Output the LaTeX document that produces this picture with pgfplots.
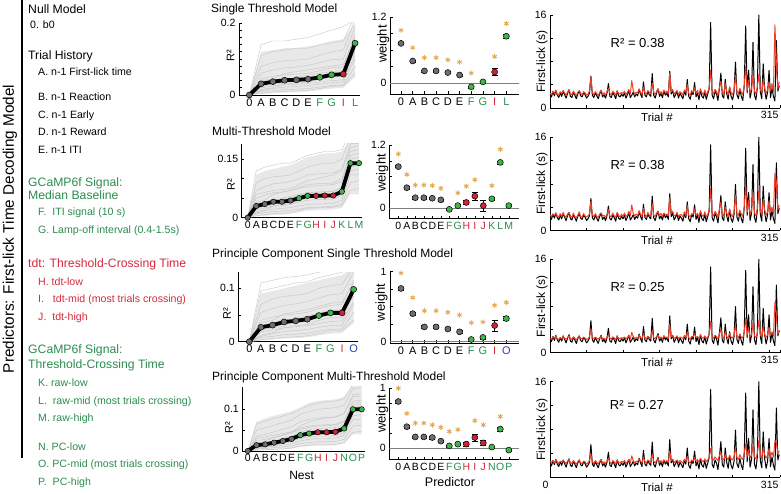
\documentclass[border=0pt]{standalone}
\usepackage{pgfplots}
\pgfplotsset{compat=1.18}
\usepackage{pgfplotstable}
\usepackage{fontspec}
\setmainfont{Liberation Sans}
\newcommand{\fsz}[1]{\fontsize{#1}{#1}\selectfont}
\definecolor{cgt}{HTML}{2A8C4E}
\definecolor{crt}{HTML}{D42A3A}
\definecolor{cbt}{HTML}{2B3FB5}
\definecolor{cgp}{HTML}{3DB54A}
\definecolor{crp}{HTML}{D02436}
\definecolor{cgray}{HTML}{6E6E6E}
\definecolor{cstar}{HTML}{E3A852}
\definecolor{cts}{HTML}{F0402A}
\definecolor{cline}{HTML}{C4C4C4}
\definecolor{cband}{HTML}{E8E8E8}

\pgfplotsset{
  panel/.style={scale only axis, anchor=south west,
    axis x line*=bottom, axis y line*=left,
    tick align=inside, major tick length=2.5pt, minor tick length=2.5pt,
    tick style={black, line width=0.6pt},
    axis line style={black, line width=0.8pt},
    tick label style={font=\fsz{10.5}},
    label style={font=\fsz{12}},
    /pgf/number format/assume math mode=true},
  gp/.style={only marks, mark=*, mark size=3pt, mark options={fill=cgray, draw=black, line width=0.5pt}},
  gg/.style={only marks, mark=*, mark size=3pt, mark options={fill=cgp, draw=black, line width=0.5pt}},
  gr/.style={only marks, mark=*, mark size=3pt, mark options={fill=crp, draw=black, line width=0.5pt}},
  st/.style={only marks, mark=asterisk, mark size=2.6pt, mark options={draw=cstar, line width=0.9pt}},
  eb/.style={error bars/.cd, y dir=both, y explicit},
  gline/.style={cline, line width=0.4pt},
  band/.style={fill=cband, draw=none},
  nest/.style={black, line width=3.8pt, line join=round},
  tsb/.style={black, line width=1pt, line join=round},
  tsr/.style={cts, line width=1pt, line join=round},
  ts/.style={xmin=0, xmax=315, ymin=0, ymax=16, ytick={0,16}, yticklabels={0,16}, minor ytick={4,8,12},
    xtick={315}, xticklabels={315}, minor xtick={50,100,...,300},
    x tick label style={anchor=north east, xshift=2pt},
    xlabel={Trial \#}, xlabel style={at={(axis description cs:0.465,0)}, anchor=north, yshift=-2pt, font=\fsz{11.5}},
    ylabel={First-lick (s)}, ylabel style={at={(axis description cs:-0.035,0.5)}, anchor=center, font=\fsz{12}}},
}

\pgfplotstableread{
t b r1 r2 r3 r4
0 2.4 2.6 2.7 2.5 2.6
2 1.9 2.3 2.4 2.4 2.5
4 2.8 2.9 2.8 2.7 2.8
6 2.1 2.5 2.6 2.5 2.4
8 3.0 3.1 3.0 2.9 2.9
10 2.2 2.4 2.5 2.4 2.6
12 1.8 2.2 2.3 2.3 2.3
14 2.6 2.8 2.9 2.6 2.7
16 2.0 2.5 2.4 2.4 2.5
18 2.9 3.0 3.1 2.8 2.8
20 2.3 2.6 2.5 2.5 2.6
22 1.7 2.2 2.3 2.3 2.3
24 2.5 2.7 2.8 2.6 2.7
26 3.1 3.2 3.1 2.9 3.0
28 2.0 2.4 2.5 2.4 2.4
30 1.8 2.3 2.2 2.3 2.3
32 2.7 2.9 3.0 2.7 2.8
34 2.2 2.5 2.4 2.5 2.5
36 1.6 2.1 2.2 2.2 2.2
38 2.4 2.7 2.6 2.6 2.6
40 2.9 3.0 3.2 2.8 2.9
42 2.1 2.5 2.4 2.5 2.4
44 1.9 2.3 2.3 2.4 2.3
46 2.6 2.8 2.9 2.7 2.7
48 2.3 2.6 2.5 2.5 2.6
50 1.7 2.2 2.3 2.3 2.2
52 2.0 2.4 2.5 2.4 2.4
54 2.5 2.9 2.8 2.7 2.8
56 5.5 5.3 5.0 4.1 3.9
58 2.2 2.6 2.7 2.6 2.6
60 1.8 2.3 2.4 2.4 2.3
62 2.6 2.8 2.9 2.7 2.8
64 2.1 2.5 2.4 2.5 2.5
66 1.6 2.1 2.2 2.3 2.2
68 2.4 2.7 2.8 2.6 2.7
70 3.0 3.1 3.0 2.8 2.9
72 1.9 2.4 2.5 2.4 2.4
74 2.3 2.6 2.6 2.5 2.6
76 1.7 2.2 2.3 2.3 2.3
78 2.5 2.8 2.7 2.6 2.7
80 4.2 3.4 3.6 3.1 3.2
82 2.0 2.5 2.4 2.5 2.5
84 1.8 2.3 2.4 2.4 2.3
86 2.7 2.9 3.0 2.7 2.8
88 2.2 2.6 2.5 2.5 2.6
90 1.6 2.2 2.3 2.3 2.2
92 2.9 3.0 3.1 2.8 2.9
94 2.1 2.5 2.6 2.5 2.5
96 1.9 2.4 2.3 2.4 2.4
98 2.4 2.7 2.8 2.6 2.7
100 2.0 2.5 2.4 2.5 2.5
102 2.6 2.9 3.0 2.7 2.8
104 1.7 2.3 2.4 2.4 2.3
106 2.3 2.7 2.6 2.6 2.6
108 3.0 3.2 3.3 2.9 3.0
110 1.8 2.4 2.5 2.4 2.4
112 2.2 4.7 4.4 3.5 3.6
114 2.7 3.0 2.9 2.8 2.8
116 1.9 2.4 2.5 2.4 2.4
118 2.4 2.7 2.8 2.6 2.7
120 2.1 2.6 2.5 2.5 2.6
122 3.2 3.3 3.4 3.0 3.1
124 2.4 2.7 2.8 2.6 2.7
126 1.8 2.3 2.4 2.4 2.4
128 4.5 3.6 3.8 3.3 3.4
130 2.2 2.6 2.7 2.6 2.6
132 1.9 2.4 2.3 2.4 2.4
134 2.8 3.0 3.1 2.8 2.9
136 2.3 2.7 2.6 2.6 2.7
138 2.0 2.5 2.6 2.5 2.5
140 5.9 4.3 4.6 3.8 3.9
142 2.2 2.7 2.6 2.6 2.7
144 1.7 2.3 2.4 2.4 2.4
146 2.6 2.9 3.0 2.8 2.8
148 3.3 3.3 3.2 3.0 3.1
150 2.0 2.5 2.6 2.5 2.5
152 2.5 2.8 2.9 2.7 2.8
154 1.8 2.3 2.4 2.4 2.4
156 2.9 3.1 3.0 2.9 2.9
158 2.2 2.6 2.7 2.6 2.6
160 2.6 2.9 2.8 2.7 2.8
162 1.9 2.4 2.5 2.4 2.5
164 6.3 6.0 5.6 4.9 4.4
166 2.4 2.8 2.9 2.7 2.8
168 3.0 3.2 3.3 3.0 3.0
170 1.8 2.4 2.5 2.5 2.5
172 2.3 2.7 2.6 2.6 2.7
174 2.8 3.0 3.1 2.9 2.9
176 1.7 2.3 2.4 2.4 2.4
178 2.5 2.8 2.7 2.7 2.8
180 2.1 2.6 2.7 2.6 2.6
182 1.6 2.2 2.3 2.4 2.4
184 2.9 3.1 3.2 2.9 3.0
186 2.2 2.7 2.6 2.6 2.7
188 4.9 4.0 4.3 3.6 3.5
190 2.0 2.5 2.6 2.6 2.6
192 1.5 2.2 2.3 2.3 2.4
194 2.7 3.0 2.9 2.8 2.9
196 2.3 2.7 2.8 2.7 2.7
198 4.4 3.5 3.7 3.3 3.3
200 1.9 2.5 2.6 2.6 2.7
202 2.6 3.0 2.9 2.8 3.0
204 1.4 2.2 2.3 2.4 2.5
206 3.1 3.3 3.4 3.1 3.2
208 2.0 2.6 2.7 2.6 2.8
210 1.7 2.3 2.4 2.5 2.6
212 2.8 3.1 3.2 2.9 3.1
214 1.5 2.2 2.3 2.4 2.6
216 2.4 2.8 2.7 2.7 2.9
218 3.3 3.4 3.5 3.1 3.3
220 14.7 6.5 7.2 5.4 4.8
222 2.2 2.9 3.0 2.8 3.2
224 1.6 2.4 2.5 2.5 2.9
226 2.9 3.2 3.3 3.0 3.4
228 2.4 2.8 2.9 2.8 3.1
230 1.3 2.2 2.3 2.4 2.8
232 3.4 3.5 3.6 3.2 3.6
234 6.0 4.6 4.9 4.1 4.2
236 2.1 2.7 2.8 2.7 3.1
238 1.7 2.4 2.5 2.5 2.9
240 4.9 4.2 4.0 3.6 3.8
242 2.5 2.9 3.0 2.8 3.3
244 1.5 2.3 2.4 2.5 2.9
246 3.6 3.6 3.7 3.3 3.7
248 2.0 2.6 2.7 2.7 3.1
250 1.4 2.3 2.4 2.5 2.9
252 2.7 3.1 3.2 3.0 3.4
254 7.9 5.6 6.1 4.8 5.0
256 2.3 2.8 2.9 2.8 3.3
258 1.6 2.5 2.6 2.6 3.0
260 3.2 3.4 3.5 3.2 3.8
262 2.0 2.7 2.8 2.7 3.2
264 1.3 2.3 2.4 2.5 3.0
266 3.8 3.9 4.1 3.5 4.1
268 14.1 7.2 7.8 5.9 5.6
270 2.6 3.0 3.1 3.0 3.5
272 6.5 4.8 5.2 4.3 4.6
274 1.7 2.6 2.7 2.7 3.2
276 3.0 3.3 3.4 3.1 3.7
278 11.3 5.5 6.3 5.1 5.3
280 2.2 2.9 3.0 2.9 3.4
282 1.4 2.4 2.5 2.6 3.1
284 3.5 3.7 3.8 3.4 4.0
286 16.0 5.8 6.9 5.6 6.2
288 2.8 3.2 3.3 3.1 3.7
290 1.6 2.6 2.7 2.7 3.2
292 7.6 4.9 5.4 4.5 4.9
294 3.1 3.4 3.5 3.2 3.8
296 1.5 2.5 2.6 2.7 3.2
298 2.7 3.1 3.2 3.0 3.6
300 6.5 4.5 5.1 4.3 4.8
302 1.8 3.0 3.1 2.9 3.5
304 3.4 4.2 4.0 3.6 4.2
306 2.0 2.8 2.9 2.9 3.4
308 1.2 14.3 9.8 8.6 6.1
310 11.6 7.8 8.4 6.3 5.9
312 2.9 3.3 3.5 3.2 3.9
314 3.8 4.5 4.3 3.8 4.4
}\ts

\pgfplotstableread{
x g1 g2 g3 g4 g5 g6 g7 g8 g9 g10 g11 g12 g13 g14
0 0 0 0 0 0 0 0 0 0 0 0 0 0 0
1 .010 .020 .030 .045 .060 .015 .080 .005 .040 .11 .025 .012 .035 .14
2 .012 .025 .036 .052 .070 .020 .090 .008 .045 .12 .030 .018 .040 .150
3 .015 .028 .040 .056 .075 .030 .095 .010 .060 .125 .033 .022 .045 .150
4 .016 .030 .041 .058 .078 .034 .097 .011 .065 .13 .050 .024 .047 .155
5 .018 .032 .043 .060 .082 .036 .10 .013 .070 .13 .055 .026 .050 .160
6 .022 .036 .050 .068 .090 .044 .11 .018 .075 .14 .060 .030 .052 .170
7 .026 .040 .058 .075 .098 .050 .12 .024 .080 .145 .065 .034 .056 .180
8 .028 .042 .060 .078 .10 .052 .125 .026 .085 .15 .068 .036 .058 .190
9 .08 .11 .15 .17 .19 .13 .21 .06 .16 .22 .14 .10 .12 .21
}\rA

\pgfplotstableread{
x g1 g2 g3 g4 g5 g6 g7 g8 g9 g10 g11 g12 g13 g14
0 0 0 0 0 0 0 0 0 0 0 0 0 0 0
1 .010 .020 .035 .050 .070 .015 .090 .005 .040 .12 .025 .012 .060 .030
2 .013 .025 .040 .058 .080 .020 .10 .008 .045 .13 .030 .018 .065 .034
3 .016 .030 .046 .064 .087 .030 .105 .010 .060 .135 .033 .022 .070 .038
4 .017 .031 .047 .066 .089 .034 .107 .011 .065 .14 .050 .024 .072 .040
5 .019 .034 .050 .070 .093 .036 .11 .013 .070 .14 .055 .026 .075 .042
6 .022 .040 .058 .078 .10 .044 .12 .018 .075 .15 .060 .030 .085 .046
7 .026 .045 .064 .085 .11 .050 .13 .024 .080 .16 .065 .034 .095 .052
8 .027 .046 .065 .087 .112 .052 .135 .025 .082 .165 .066 .035 .10 .054
9 .028 .047 .066 .088 .114 .053 .14 .026 .084 .17 .067 .036 .105 .055
10 .029 .048 .067 .089 .115 .054 .14 .027 .085 .17 .068 .037 .11 .056
11 .035 .058 .078 .10 .125 .062 .15 .030 .092 .175 .078 .045 .12 .064
12 .09 .12 .15 .17 .19 .13 .21 .07 .16 .22 .14 .11 .18 .135
13 .095 .125 .155 .175 .19 .135 .21 .075 .165 .22 .145 .11 .185 .14
}\rB

\pgfplotstableread{
x g1 g2 g3 g4 g5 g6 g7 g8 g9 g10 g11 g12 g13 g14
0 0 0 0 0 0 0 0 0 0 0 0 0 0 0
1 .008 .018 .026 .040 .055 .012 .070 .004 .035 .095 .022 .010 .030 .11
2 .010 .022 .030 .046 .062 .017 .080 .006 .040 .10 .026 .015 .035 .115
3 .013 .026 .036 .050 .068 .026 .085 .008 .052 .105 .029 .019 .040 .12
4 .014 .028 .038 .052 .071 .030 .087 .009 .056 .11 .044 .021 .042 .122
5 .016 .030 .041 .055 .075 .032 .09 .011 .060 .112 .048 .023 .045 .125
6 .020 .034 .048 .062 .082 .040 .10 .015 .066 .12 .054 .027 .048 .13
7 .023 .038 .053 .068 .088 .045 .105 .020 .072 .125 .058 .030 .052 .135
8 .024 .039 .054 .070 .09 .046 .108 .021 .074 .13 .060 .031 .053 .14
9 .055 .075 .10 .115 .13 .09 .14 .04 .11 .15 .095 .07 .085 .15
}\rC

\pgfplotstableread{
x g1 g2 g3 g4 g5 g6 g7 g8 g9 g10 g11 g12 g13 g14
0 0 0 0 0 0 0 0 0 0 0 0 0 0 0
1 .005 .010 .015 .025 .035 .008 .050 .002 .020 .065 .012 .006 .030 .018
2 .006 .012 .018 .028 .040 .010 .056 .003 .024 .072 .016 .009 .034 .020
3 .008 .015 .022 .033 .046 .014 .062 .004 .032 .078 .019 .012 .038 .024
4 .010 .018 .026 .038 .052 .020 .068 .005 .038 .084 .030 .014 .042 .028
5 .012 .022 .031 .044 .058 .024 .074 .007 .044 .09 .036 .017 .046 .032
6 .018 .030 .040 .055 .070 .034 .088 .012 .052 .10 .046 .024 .060 .042
7 .020 .034 .045 .060 .076 .038 .095 .014 .057 .11 .051 .028 .070 .046
8 .022 .036 .047 .062 .079 .040 .10 .015 .060 .115 .054 .030 .075 .049
9 .022 .036 .047 .063 .080 .041 .102 .015 .061 .118 .055 .030 .080 .050
10 .023 .037 .048 .064 .081 .042 .104 .016 .062 .12 .056 .031 .082 .050
11 .028 .044 .056 .072 .09 .05 .11 .02 .07 .125 .064 .038 .09 .058
12 .06 .085 .105 .12 .135 .095 .15 .045 .115 .16 .11 .075 .13 .10
13 .062 .087 .107 .122 .137 .097 .152 .047 .117 .16 .112 .077 .132 .10
}\rD

\begin{document}
\begin{tikzpicture}
\path[use as bounding box] (0pt,0pt) rectangle (781pt,494pt);

% ---------- left column ----------
\draw[line width=1.1pt] (22pt,494pt) -- (22pt,36pt);
\node[rotate=90, font=\fsz{15.3}] at (10pt,265pt) {Predictors: First-lick Time Decoding Model};
\begin{scope}[every node/.style={anchor=base west, inner sep=0pt}]
\node[font=\fsz{12.2}] at (28pt,480.6pt) {Null Model};
\node[font=\fsz{10.6}] at (30pt,465.2pt) {0. b0};
\node[font=\fsz{12.2}] at (28pt,434.6pt) {Trial History};
\node[font=\fsz{10.6}] at (38pt,418.2pt) {A. n-1 First-lick time};
\node[font=\fsz{10.6}] at (38pt,393.2pt) {B. n-1 Reaction};
\node[font=\fsz{10.6}] at (38pt,375.2pt) {C. n-1 Early};
\node[font=\fsz{10.6}] at (38pt,358.2pt) {D. n-1 Reward};
\node[font=\fsz{10.6}] at (38pt,340.2pt) {E. n-1 ITI};
\node[font=\fsz{12.2}, text=cgt] at (28pt,307.6pt) {GCaMP6f Signal:};
\node[font=\fsz{12.2}, text=cgt] at (28pt,294.6pt) {Median Baseline};
\node[font=\fsz{10.6}, text=cgt] at (38pt,278.2pt) {F.\ \ ITI signal (10 s)};
\node[font=\fsz{10.6}, text=cgt] at (38pt,260.2pt) {G. Lamp-off interval (0.4-1.5s)};
\node[font=\fsz{12.2}, text=crt] at (28pt,226.6pt) {tdt: Threshold-Crossing Time};
\node[font=\fsz{10.6}, text=crt] at (38pt,208.2pt) {H. tdt-low};
\node[font=\fsz{10.6}, text=crt] at (38pt,191.2pt) {I.\ \ \ tdt-mid (most trials crossing)};
\node[font=\fsz{10.6}, text=crt] at (38pt,173.2pt) {J.\ \ tdt-high};
\node[font=\fsz{12.2}, text=cgt] at (28pt,140.6pt) {GCaMP6f Signal:};
\node[font=\fsz{12.2}, text=cgt] at (28pt,125.6pt) {Threshold-Crossing Time};
\node[font=\fsz{10.6}, text=cgt] at (38pt,107.2pt) {K. raw-low};
\node[font=\fsz{10.6}, text=cgt] at (38pt,89.2pt) {L.\ \ raw-mid (most trials crossing)};
\node[font=\fsz{10.6}, text=cgt] at (38pt,72.2pt) {M. raw-high};
\node[font=\fsz{10.6}, text=cgt] at (38pt,43.2pt) {N. PC-low};
\node[font=\fsz{10.6}, text=cgt] at (38pt,26.2pt) {O. PC-mid (most trials crossing)};
\node[font=\fsz{10.6}, text=cgt] at (38pt,8.2pt) {P.\ \ PC-high};
\node[font=\fsz{12}] at (211pt,481.5pt) {Single Threshold Model};
\node[font=\fsz{12}] at (212pt,358pt) {Multi-Threshold Model};
\node[font=\fsz{12}] at (212pt,236.5pt) {Principle Component Single Threshold Model};
\node[font=\fsz{12}] at (212pt,113.7pt) {Principle Component Multi-Threshold Model};
\end{scope}

% ================= ROW 1 =================
\begin{axis}[panel, at={(239pt,399pt)}, width=121pt, height=72pt,
  xmin=-0.88, xmax=9.42, ymin=0, ymax=0.2,
  ytick={0,0.2}, yticklabels={0,0.2}, minor ytick={0.02,0.04,0.06,0.08,0.1,0.12,0.14,0.16,0.18},
  xtick={0,...,9}, major x tick style={draw=none},
  xticklabels={0,A,B,C,D,E,\textcolor{cgt}{F},\textcolor{cgt}{G},\textcolor{crt}{I},\textcolor{cgt}{L}},
  x tick label style={font=\fsz{11}},
  ylabel={R²}, ylabel style={at={(axis description cs:-0.07,0.55)}, anchor=center, font=\fsz{11}}]
\addplot[band] coordinates {(0,0)(1,.12)(2,.125)(3,.13)(4,.13)(5,.135)(6,.14)(7,.15)(8,.155)(9,.2)(9,.05)(8,.020)(7,.018)(6,.014)(5,.010)(4,.008)(3,.007)(2,.005)(1,.003)} -- cycle;
\pgfplotsinvokeforeach{1,...,14}{\addplot[gline] table[x=x,y=g#1]{\rA};}
\addplot[nest] coordinates {(0,0)(1,.031)(2,.037)(3,.041)(4,.042)(5,.044)(6,.049)(7,.056)(8,.058)(9,.144)};
\addplot[gp] coordinates {(0,0)(1,.031)(2,.037)(3,.041)(4,.042)(5,.044)};
\addplot[gg] coordinates {(6,.049)(7,.056)(9,.144)};
\addplot[gr] coordinates {(8,.058)};
\end{axis}

\begin{axis}[panel, at={(390pt,400pt)}, width=129pt, height=77pt,
  xmin=-0.94, xmax=10.08, ymin=-0.2, ymax=1.2,
  ytick={0,1.2}, yticklabels={0,1.2}, minor ytick={0.3,0.6,0.9},
  xtick={0,...,9},
  xticklabels={0,A,B,C,D,E,\textcolor{cgt}{F},\textcolor{cgt}{G},\textcolor{crt}{I},\textcolor{cgt}{L}},
  x tick label style={font=\fsz{11}},
  ylabel={weight}, ylabel style={at={(axis description cs:-0.052,0.65)}, anchor=center, font=\fsz{13}}]
\addplot[gray, line width=0.6pt] coordinates {(-0.94,0)(10.08,0)};
\addplot[st] coordinates {(0,.96)(1,.64)(2,.46)(3,.46)(4,.42)(5,.38)(6,.18)(8,.48)(9,1.08)};
\addplot[gp, eb] coordinates {(0,.72)+-(0,.02)(1,.40)+-(0,.02)(2,.22)+-(0,.02)(3,.22)+-(0,.02)(4,.19)+-(0,.02)(5,.145)+-(0,.02)};
\addplot[gg, eb] coordinates {(6,-.07)+-(0,.02)(7,.02)+-(0,.02)(9,.85)+-(0,.03)};
\addplot[gr, eb] coordinates {(8,.20)+-(0,.06)};
\end{axis}

\begin{axis}[panel, ts, at={(550pt,386pt)}, width=230pt, height=93pt]
\addplot[tsb] table[x=t,y=b]{\ts};
\addplot[tsr] table[x=t,y=r1]{\ts};
\node[font=\fsz{13}] at (axis cs:120,11.2) {R² = 0.38};
\end{axis}

% ================= ROW 2 =================
\begin{axis}[panel, at={(241.7pt,276.3pt)}, width=120.7pt, height=74pt,
  xmin=-0.7, xmax=13.4, ymin=0, ymax=0.19,
  ytick={0,0.15}, yticklabels={0,0.15}, minor ytick={0.05,0.1},
  xtick={0,...,13}, major x tick style={draw=none},
  xticklabels={0,A,B,C,D,E,\textcolor{cgt}{F},\textcolor{cgt}{G},\textcolor{crt}{H},\textcolor{crt}{I},\textcolor{crt}{J},\textcolor{cgt}{K},\textcolor{cgt}{L},\textcolor{cgt}{M}},
  x tick label style={font=\fsz{10.5}},
  ylabel={R²}, ylabel style={at={(axis description cs:-0.089,0.44)}, anchor=center, font=\fsz{11}}]
\addplot[band] coordinates {(0,0)(1,.11)(2,.12)(3,.125)(4,.13)(5,.135)(6,.145)(7,.155)(8,.16)(9,.165)(10,.165)(11,.17)(12,.2)(13,.2)(13,.06)(12,.06)(11,.025)(10,.021)(9,.020)(8,.019)(7,.018)(6,.014)(5,.010)(4,.008)(3,.007)(2,.005)(1,.003)} -- cycle;
\pgfplotsinvokeforeach{1,...,14}{\addplot[gline] table[x=x,y=g#1]{\rB};}
\addplot[nest] coordinates {(0,0)(1,.030)(2,.035)(3,.041)(4,.041)(5,.044)(6,.050)(7,.056)(8,.056)(9,.057)(10,.057)(11,.067)(12,.14)(13,.14)};
\addplot[gp, mark size=2.7pt] coordinates {(0,0)(1,.030)(2,.035)(3,.041)(4,.041)(5,.044)};
\addplot[gg, mark size=2.7pt] coordinates {(6,.050)(7,.056)(11,.067)(12,.14)(13,.14)};
\addplot[gr, mark size=2.7pt] coordinates {(8,.056)(9,.057)(10,.057)};
\end{axis}

\begin{axis}[panel, at={(389.3pt,275.7pt)}, width=129.7pt, height=73.3pt,
  xmin=-1.06, xmax=14.2, ymin=-0.19, ymax=1.2,
  ytick={0,1.2}, yticklabels={0,1.2}, minor ytick={0.3,0.6,0.9},
  xtick={0,...,13},
  xticklabels={0,A,B,C,D,E,\textcolor{cgt}{F},\textcolor{cgt}{G},\textcolor{crt}{H},\textcolor{crt}{I},\textcolor{crt}{J},\textcolor{cgt}{K},\textcolor{cgt}{L},\textcolor{cgt}{M}},
  x tick label style={font=\fsz{10.5}},
  ylabel={weight}, ylabel style={at={(axis description cs:-0.055,0.62)}, anchor=center, font=\fsz{13}}]
\addplot[gray, line width=0.6pt] coordinates {(-1.06,0)(14.2,0)};
\addplot[st] coordinates {(0,1.03)(1,.64)(2,.44)(3,.44)(4,.43)(5,.38)(7,.29)(8,.42)(9,.54)(11,.43)(12,1.12)};
\addplot[gp, eb] coordinates {(0,.79)+-(0,.02)(1,.39)+-(0,.02)(2,.20)+-(0,.02)(3,.20)+-(0,.02)(4,.19)+-(0,.02)(5,.16)+-(0,.02)};
\addplot[gg, eb] coordinates {(6,-.02)+-(0,.02)(7,.05)+-(0,.02)(11,.18)+-(0,.03)(12,.87)+-(0,.03)(13,.05)+-(0,.02)};
\addplot[gr, eb] coordinates {(8,.11)+-(0,.04)(9,.23)+-(0,.075)(10,.05)+-(0,.1)};
\end{axis}

\begin{axis}[panel, ts, at={(550pt,263.5pt)}, width=230pt, height=93.3pt]
\addplot[tsb] table[x=t,y=b]{\ts};
\addplot[tsr] table[x=t,y=r2]{\ts};
\node[font=\fsz{13}] at (axis cs:120,11.2) {R² = 0.38};
\end{axis}

% ================= ROW 3 =================
\begin{axis}[panel, at={(238.3pt,152.3pt)}, width=120pt, height=69.4pt,
  xmin=-0.95, xmax=9.4, ymin=0, ymax=0.13,
  ytick={0,0.1}, yticklabels={0,0.1}, minor ytick={0.05},
  xtick={0,...,9}, major x tick style={draw=none},
  xticklabels={0,A,B,C,D,E,\textcolor{cgt}{F},\textcolor{cgt}{G},\textcolor{crt}{I},\textcolor{cbt}{O}},
  x tick label style={font=\fsz{11}},
  ylabel={R²}, ylabel style={at={(axis description cs:-0.094,0.40)}, anchor=center, font=\fsz{11}}]
\addplot[band] coordinates {(0,0)(1,.09)(2,.095)(3,.10)(4,.105)(5,.11)(6,.115)(7,.12)(8,.125)(9,.14)(9,.035)(8,.016)(7,.015)(6,.012)(5,.008)(4,.007)(3,.006)(2,.004)(1,.002)} -- cycle;
\pgfplotsinvokeforeach{1,...,14}{\addplot[gline] table[x=x,y=g#1]{\rC};}
\addplot[nest] coordinates {(0,0)(1,.027)(2,.031)(3,.037)(4,.039)(5,.042)(6,.049)(7,.054)(8,.054)(9,.098)};
\addplot[gp] coordinates {(0,0)(1,.027)(2,.031)(3,.037)(4,.039)(5,.042)};
\addplot[gg] coordinates {(6,.049)(7,.054)(9,.098)};
\addplot[gr] coordinates {(8,.054)};
\end{axis}

\begin{axis}[panel, at={(390pt,151pt)}, width=129pt, height=71.3pt,
  xmin=-0.94, xmax=10.08, ymin=-0.02, ymax=1.0,
  ytick={0,1}, yticklabels={0,1}, minor ytick={0.25,0.5,0.75},
  xtick={0,...,9},
  xticklabels={0,A,B,C,D,E,\textcolor{cgt}{F},\textcolor{cgt}{G},\textcolor{crt}{I},\textcolor{cbt}{O}},
  x tick label style={font=\fsz{11}},
  ylabel={weight}, ylabel style={at={(axis description cs:-0.065,0.57)}, anchor=center, font=\fsz{13}}]
\addplot[gray, line width=0.6pt] coordinates {(-0.94,0)(10.08,0)};
\addplot[st] coordinates {(0,.98)(1,.63)(2,.44)(3,.44)(4,.42)(5,.38)(6,.27)(7,.28)(8,.52)(9,.56)};
\addplot[gp, eb] coordinates {(0,.76)+-(0,.02)(1,.40)+-(0,.02)(2,.21)+-(0,.02)(3,.21)+-(0,.02)(4,.18)+-(0,.02)(5,.14)+-(0,.02)};
\addplot[gg, eb] coordinates {(6,.03)+-(0,.02)(7,.06)+-(0,.02)(9,.33)+-(0,.03)};
\addplot[gr, eb] coordinates {(8,.23)+-(0,.08)};
\end{axis}

\begin{axis}[panel, ts, at={(550pt,141.2pt)}, width=230pt, height=93.5pt]
\addplot[tsb] table[x=t,y=b]{\ts};
\addplot[tsr] table[x=t,y=r3]{\ts};
\node[font=\fsz{13}] at (axis cs:120,11.2) {R² = 0.25};
\end{axis}

% ================= ROW 4 =================
\begin{axis}[panel, at={(242.3pt,43pt)}, width=122.9pt, height=64.2pt,
  xmin=-0.62, xmax=13.4, ymin=0, ymax=0.154,
  ytick={0,0.1}, yticklabels={0,0.1}, minor ytick={0.05},
  xtick={0,...,13}, major x tick style={draw=none},
  xticklabels={0,A,B,C,D,E,\textcolor{cgt}{F},\textcolor{cgt}{G},\textcolor{crt}{H},\textcolor{crt}{I},\textcolor{crt}{J},\textcolor{cgt}{N},\textcolor{cgt}{O},\textcolor{cgt}{P}},
  x tick label style={font=\fsz{10.5}},
  xlabel={Nest}, xlabel style={at={(axis description cs:0.483,0)}, anchor=north, yshift=-17pt, font=\fsz{12}},
  ylabel={R²}, ylabel style={at={(axis description cs:-0.108,0.36)}, anchor=center, font=\fsz{11}}]
\addplot[band] coordinates {(0,0)(1,.07)(2,.078)(3,.085)(4,.09)(5,.095)(6,.105)(7,.115)(8,.12)(9,.122)(10,.124)(11,.13)(12,.16)(13,.16)(13,.04)(12,.04)(11,.018)(10,.014)(9,.013)(8,.013)(7,.012)(6,.010)(5,.006)(4,.004)(3,.003)(2,.002)(1,.001)} -- cycle;
\pgfplotsinvokeforeach{1,...,14}{\addplot[gline] table[x=x,y=g#1]{\rD};}
\addplot[nest] coordinates {(0,0)(1,.014)(2,.016)(3,.020)(4,.024)(5,.029)(6,.038)(7,.042)(8,.045)(9,.045)(10,.046)(11,.054)(12,.10)(13,.10)};
\addplot[gp, mark size=2.7pt] coordinates {(0,0)(1,.014)(2,.016)(3,.020)(4,.024)(5,.029)};
\addplot[gg, mark size=2.7pt] coordinates {(6,.038)(7,.042)(11,.054)(12,.10)(13,.10)};
\addplot[gr, mark size=2.7pt] coordinates {(8,.045)(9,.045)(10,.046)};
\end{axis}

\begin{axis}[panel, at={(389.3pt,34.7pt)}, width=129.7pt, height=71pt,
  xmin=-1.06, xmax=14.2, ymin=-0.183, ymax=1.0,
  ytick={0,1}, yticklabels={0,1}, minor ytick={0.25,0.5,0.75},
  xtick={0,...,13},
  xticklabels={0,A,B,C,D,E,\textcolor{cgt}{F},\textcolor{cgt}{G},\textcolor{crt}{H},\textcolor{crt}{I},\textcolor{crt}{J},\textcolor{cgt}{N},\textcolor{cgt}{O},\textcolor{cgt}{P}},
  x tick label style={font=\fsz{10.5}},
  xlabel={Predictor}, xlabel style={at={(axis description cs:0.468,0)}, anchor=north, yshift=-15pt, font=\fsz{12.5}},
  ylabel={weight}, ylabel style={at={(axis description cs:-0.055,0.64)}, anchor=center, font=\fsz{13}}]
\addplot[gray, line width=0.6pt] coordinates {(-1.06,0)(14.2,0)};
\addplot[st] coordinates {(0,1.0)(1,.58)(2,.42)(3,.42)(4,.39)(5,.35)(6,.28)(7,.31)(9,.46)(10,.39)(12,.53)};
\addplot[gp, eb] coordinates {(0,.78)+-(0,.02)(1,.36)+-(0,.02)(2,.19)+-(0,.02)(3,.19)+-(0,.02)(4,.18)+-(0,.02)(5,.12)+-(0,.02)};
\addplot[gg, eb] coordinates {(6,.04)+-(0,.02)(7,.07)+-(0,.02)(11,.02)+-(0,.02)(12,.32)+-(0,.03)(13,-.03)+-(0,.02)};
\addplot[gr, eb] coordinates {(8,.07)+-(0,.04)(9,.18)+-(0,.06)(10,.09)+-(0,.04)};
\end{axis}

\begin{axis}[panel, ts, at={(550pt,16.7pt)}, width=230pt, height=95.6pt,
  yticklabels={,16}, xtick={0,315}, xticklabels={0,315}]
\addplot[tsb] table[x=t,y=b]{\ts};
\addplot[tsr] table[x=t,y=r4]{\ts};
\node[font=\fsz{13}] at (axis cs:119,12.1) {R² = 0.27};
\end{axis}
\end{tikzpicture}
\end{document}
